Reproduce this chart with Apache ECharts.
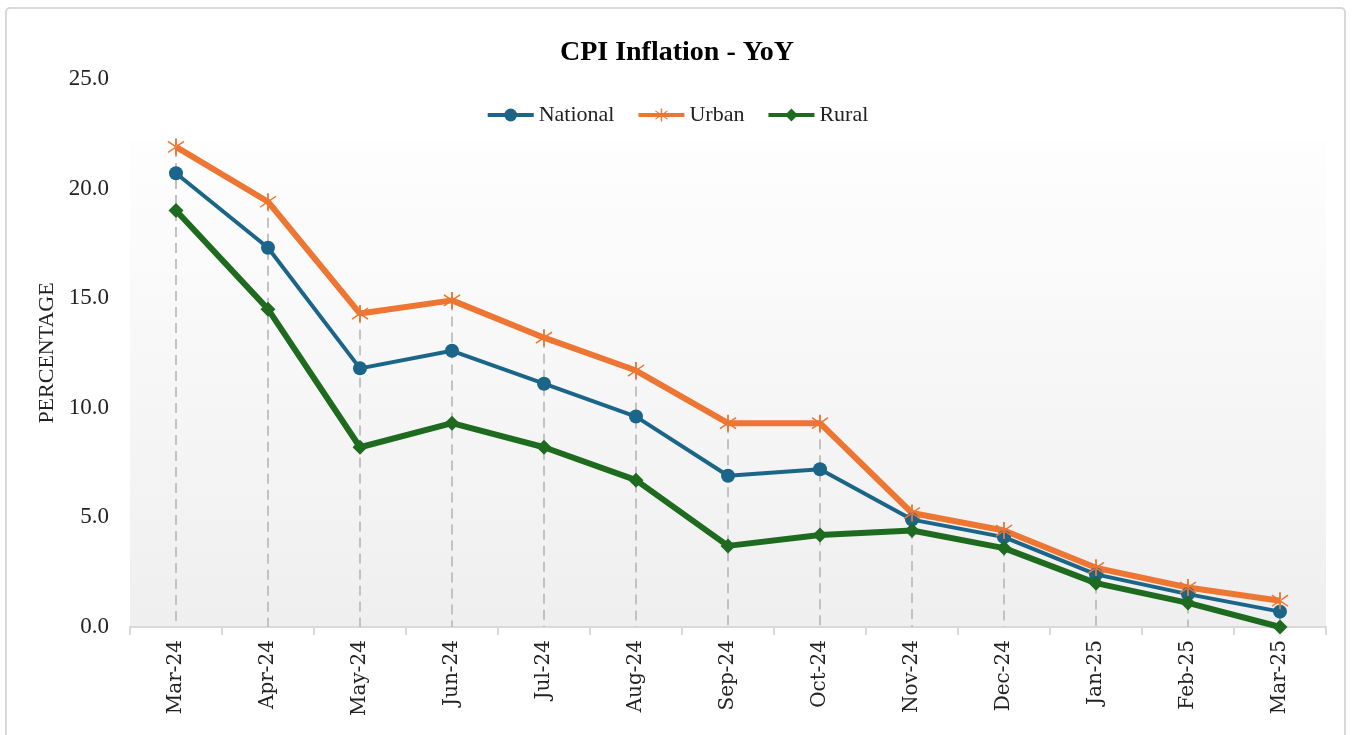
<!DOCTYPE html>
<html>
<head>
<meta charset="utf-8">
<title>CPI Inflation - YoY</title>
<script src="https://cdn.jsdelivr.net/npm/echarts@6/dist/echarts.min.js"></script>
<style>
  html, body { margin: 0; padding: 0; background: #fff; }
  #chart { width: 1354px; height: 735px; }
</style>
</head>
<body>
<div id="chart"></div>
<script>
// months on the x axis
const months = ['Mar-24', 'Apr-24', 'May-24', 'Jun-24', 'Jul-24', 'Aug-24', 'Sep-24',
                'Oct-24', 'Nov-24', 'Dec-24', 'Jan-25', 'Feb-25', 'Mar-25'];
// YoY CPI inflation, percent
const national = [20.7, 17.3, 11.8, 12.6, 11.1, 9.6, 6.9, 7.2, 4.9, 4.1, 2.4, 1.5, 0.7];
const urban    = [21.9, 19.4, 14.3, 14.9, 13.2, 11.7, 9.3, 9.3, 5.2, 4.4, 2.7, 1.8, 1.2];
const rural    = [19.0, 14.5, 8.2, 9.3, 8.2, 6.7, 3.7, 4.2, 4.4, 3.6, 2.0, 1.1, 0.0];
const yTicks = [0, 5, 10, 15, 20, 25];

const serif = 'Liberation Serif';
const wideSerif = 'DejaVu Serif';
// asterisk-like marker for Urban
const starPath = 'path://M-0.9,-10 L0.9,-10 L0.9,10 L-0.9,10 Z ' +
  'M-8.2,-5.8 L-7.3,-7.2 L8.2,5.8 L7.3,7.2 Z M-8.2,5.8 L-7.3,7.2 L8.2,-5.8 L7.3,-7.2 Z';

// drop lines: from the highest point of each month to the axis
const dropLines = months.map((m, i) => [
    { coord: [i, Math.max(national[i], urban[i], rural[i])] },
    { coord: [i, 0] }
]);

const chart = echarts.init(document.getElementById('chart'));
chart.setOption({
    backgroundColor: '#fff',
    animation: false,
    graphic: [
        {
            type: 'rect', z: -10,
            shape: { x: 6, y: 8, width: 1339, height: 740, r: 4 },
            style: { fill: '#fff', stroke: '#d9d9d9', lineWidth: 2 }
        },
        {
            type: 'rect', z: -9,
            shape: { x: 130, y: 140, width: 1196, height: 487 },
            style: {
                fill: new echarts.graphic.LinearGradient(0, 0, 0, 1, [
                    { offset: 0, color: '#fefefe' },
                    { offset: 1, color: '#efefef' }
                ])
            }
        }
    ],
    title: {
        text: 'CPI Inflation - YoY',
        left: 'center',
        top: 34,
        textStyle: { fontFamily: serif, fontWeight: 'bold', fontSize: 28, color: '#000' }
    },
    legend: {
        top: 99,
        left: 'center',
        itemWidth: 46,
        itemHeight: 16,
        itemGap: 22,
        lineStyle: { width: 4 },
        textStyle: { fontFamily: serif, fontSize: 22, color: '#222' },
        data: ['National', 'Urban', 'Rural']
    },
    grid: { left: 130, right: 28, top: 79, bottom: 108 },
    xAxis: {
        type: 'category',
        data: months,
        boundaryGap: true,
        axisLine: { lineStyle: { color: '#d9d9d9', width: 2 } },
        axisTick: { show: true, length: 8, lineStyle: { color: '#d9d9d9', width: 2 } },
        axisLabel: {
            rotate: 90, margin: 13, interval: 0,
            fontFamily: wideSerif, fontSize: 20, color: '#222'
        }
    },
    yAxis: {
        type: 'value',
        min: yTicks[0],
        max: yTicks[yTicks.length - 1],
        interval: 5,
        name: 'PERCENTAGE',
        nameLocation: 'middle',
        nameGap: 68,
        nameTextStyle: { fontFamily: serif, fontSize: 22, color: '#222' },
        axisLine: { show: false },
        axisTick: { show: false },
        splitLine: { show: false },
        axisLabel: {
            margin: 21,
            fontFamily: serif, fontSize: 23, color: '#222',
            formatter: v => v.toFixed(1)
        }
    },
    series: [
        {
            name: 'National',
            type: 'line',
            data: national,
            symbol: 'circle',
            symbolSize: 14,
            itemStyle: { color: '#1b6589' },
            lineStyle: { color: '#1b6589', width: 4 },
            markLine: {
                silent: true,
                symbol: 'none',
                z: 1,
                label: { show: false },
                lineStyle: { color: '#bdbdbd', width: 1.8, type: [10, 6] },
                data: dropLines
            }
        },
        {
            name: 'Urban',
            type: 'line',
            data: urban,
            symbol: starPath,
            symbolSize: 17,
            itemStyle: { color: '#ed7633' },
            lineStyle: { color: '#ed7633', width: 6 }
        },
        {
            name: 'Rural',
            type: 'line',
            data: rural,
            symbol: 'diamond',
            symbolSize: 15,
            itemStyle: { color: '#1e6b20' },
            lineStyle: { color: '#1e6b20', width: 6 }
        }
    ]
});
</script>
</body>
</html>
